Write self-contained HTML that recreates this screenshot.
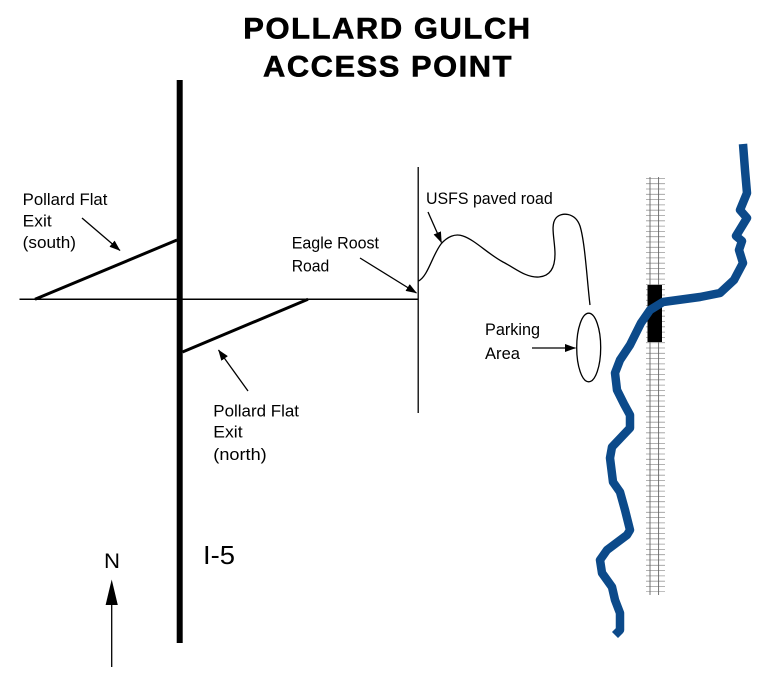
<!DOCTYPE html>
<html>
<head>
<meta charset="utf-8">
<style>
  html, body { margin: 0; padding: 0; background: #fff; }
  svg { display: block; }
  text { font-family: "Liberation Sans", "DejaVu Sans", sans-serif; fill: #000; }
</style>
</head>
<body>
<svg width="776" height="697" viewBox="0 0 776 697" xmlns="http://www.w3.org/2000/svg">
  <defs>
    <marker id="ah" markerUnits="userSpaceOnUse" markerWidth="11" markerHeight="8" refX="10.5" refY="4" orient="auto">
      <path d="M0,0 L11,4 L0,8 z" fill="#000"/>
    </marker>
  </defs>
  <rect width="776" height="697" fill="#fff"/>

  <!-- Title -->
  <text x="243.3" y="38.3" font-size="29.5" font-weight="bold" letter-spacing="1.5" textLength="288.4" lengthAdjust="spacingAndGlyphs" stroke="#000" stroke-width="0.6">POLLARD GULCH</text>
  <text x="263" y="76.7" font-size="29.5" font-weight="bold" letter-spacing="1.5" textLength="250" lengthAdjust="spacingAndGlyphs" stroke="#000" stroke-width="0.6">ACCESS POINT</text>

  <!-- I-5 -->
  <line x1="179.7" y1="80" x2="179.7" y2="643" stroke="#000" stroke-width="6"/>

  <!-- Horizontal road -->
  <line x1="19.5" y1="299.3" x2="418.5" y2="299.3" stroke="#000" stroke-width="1.5"/>
  <!-- Vertical road (Eagle Roost) -->
  <line x1="418.2" y1="167" x2="418.2" y2="413" stroke="#000" stroke-width="1.3"/>

  <!-- Ramps -->
  <line x1="35" y1="299.3" x2="177" y2="240" stroke="#000" stroke-width="3"/>
  <line x1="182.5" y1="352" x2="308" y2="299.3" stroke="#000" stroke-width="3"/>

  <!-- Arrows -->
  <line x1="82" y1="218" x2="120" y2="250.5" stroke="#000" stroke-width="1.3" marker-end="url(#ah)"/>
  <line x1="248" y1="391" x2="218.5" y2="350" stroke="#000" stroke-width="1.3" marker-end="url(#ah)"/>
  <line x1="360" y1="258" x2="416.5" y2="293" stroke="#000" stroke-width="1.3" marker-end="url(#ah)"/>
  <line x1="428" y1="212" x2="441.5" y2="242.5" stroke="#000" stroke-width="1.3" marker-end="url(#ah)"/>
  <line x1="532" y1="348" x2="575.5" y2="348" stroke="#000" stroke-width="1.3" marker-end="url(#ah)"/>

  <!-- USFS paved road curve -->
  <path d="M418.5,281 C428,276 432,256 441,244 C447,237 455,233 463,236 C475,240 488,254 503,262 C515,268 526,278 539,277 C551,276 555,267 555,254 C555,240 550,225 556,218 C561,212 575,212 580,226 C585,242 587,280 590,305"
        fill="none" stroke="#000" stroke-width="1.3"/>

  <!-- Parking ellipse -->
  <ellipse cx="588.7" cy="347.5" rx="12" ry="34.3" fill="none" stroke="#000" stroke-width="1.3"/>

  <!-- Railroad -->
  <line x1="655.5" y1="178" x2="655.5" y2="592" stroke="#9a9a9a" stroke-width="19" stroke-dasharray="0.8 4.5"/>
  <line x1="650" y1="177" x2="650" y2="595" stroke="#666" stroke-width="0.9"/>
  <line x1="658.6" y1="177" x2="658.6" y2="595" stroke="#666" stroke-width="0.9"/>
  <rect x="647.5" y="285" width="14.5" height="57" fill="#000"/>

  <!-- River -->
  <polyline fill="none" stroke="#0c4a8a" stroke-width="8.5" stroke-linejoin="round" stroke-linecap="butt"
    points="743,144 745,170 747,193 740,210 747,218 736,236 742,241 739,250 743,263 734,280 720,293 700,297 663,302 650,310 641,323 630,345 620,360 615,373 617,390 624,404 630,415 630,428 612,447 610,458 613,482 620,492 625,510 630,530 627,535 607,550 600,560 602,573 612,587 615,600 620,613 620,630 615,635"/>

  <!-- Labels -->
  <g font-size="16.5">
    <text x="22.7" y="205" textLength="84.7" lengthAdjust="spacingAndGlyphs">Pollard Flat</text>
    <text x="22.7" y="226.7" textLength="29" lengthAdjust="spacingAndGlyphs">Exit</text>
    <text x="22.7" y="248" textLength="53.3" lengthAdjust="spacingAndGlyphs">(south)</text>

    <text x="291.7" y="248.3" textLength="87.3" lengthAdjust="spacingAndGlyphs">Eagle Roost</text>
    <text x="291.7" y="271.7" textLength="37.6" lengthAdjust="spacingAndGlyphs">Road</text>

    <text x="213.3" y="416.7" textLength="85.7" lengthAdjust="spacingAndGlyphs">Pollard Flat</text>
    <text x="213.3" y="437.5" textLength="29.3" lengthAdjust="spacingAndGlyphs">Exit</text>
    <text x="213.3" y="460" textLength="53.4" lengthAdjust="spacingAndGlyphs">(north)</text>

    <text x="426" y="204" textLength="126.7" lengthAdjust="spacingAndGlyphs">USFS paved road</text>

    <text x="485" y="335" textLength="55" lengthAdjust="spacingAndGlyphs">Parking</text>
    <text x="485" y="359" textLength="35" lengthAdjust="spacingAndGlyphs">Area</text>
  </g>

  <!-- I-5 label -->
  <text x="203" y="564" font-size="26" textLength="32" lengthAdjust="spacingAndGlyphs">I-5</text>

  <!-- North arrow -->
  <text x="104" y="568" font-size="21" textLength="16" lengthAdjust="spacingAndGlyphs">N</text>
  <line x1="111.7" y1="667" x2="111.7" y2="604" stroke="#000" stroke-width="1.3"/>
  <path d="M111.7,579.5 L117.8,605 L105.6,605 z" fill="#000"/>
</svg>
</body>
</html>
